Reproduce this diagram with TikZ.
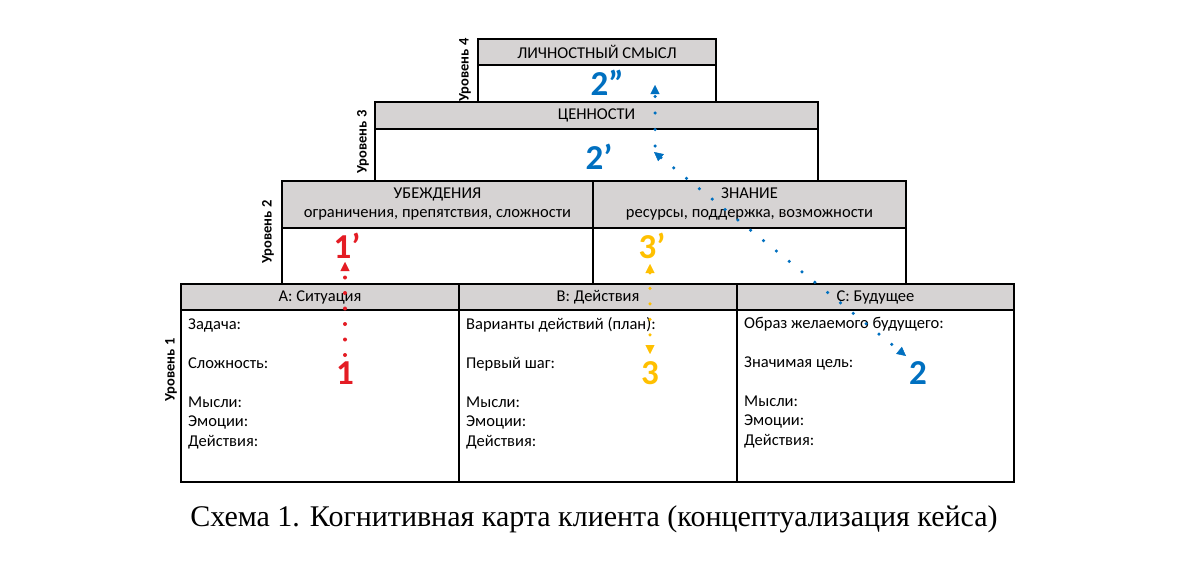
\documentclass[tikz,border=0pt]{standalone}
\usepackage{fontspec}
\setmainfont{Carlito}
\newfontfamily\capfont{Liberation Serif}
\usetikzlibrary{arrows.meta}
\definecolor{hdr}{RGB}{214,211,211}
\definecolor{cred}{RGB}{228,28,36}
\definecolor{cyel}{RGB}{255,192,0}
\definecolor{cblue}{RGB}{0,112,192}
\begin{document}
\begin{tikzpicture}[x=1pt,y=-1pt,
  boxline/.style={draw=black,line width=1.7pt,inner sep=0pt,outer sep=0pt},
  hdrbox/.style={boxline,fill=hdr,font=\fontsize{16.5}{19}\selectfont,align=center},
  bodybox/.style={boxline,fill=white},
  txt/.style={font=\fontsize{16.5}{18}\selectfont,inner sep=0pt,anchor=base west},
  lvl/.style={font=\bfseries\fontsize{14.5}{15}\selectfont,inner sep=0pt,rotate=90},
  num/.style={font=\bfseries\fontsize{35}{35}\selectfont,inner sep=0pt},
  dotline/.style={line width=4pt,line cap=round,dash pattern=on 0pt off 15.5pt},
  tip/.style={-{Triangle[length=9pt,width=9pt,line width=0.4pt]}},
  tips/.style={{Triangle[length=9pt,width=9pt,line width=0.4pt]}-{Triangle[length=9pt,width=9pt,line width=0.4pt]}}]
\useasboundingbox[fill=white] (0,0) rectangle (1200,562);

% Level 4
\node[bodybox,minimum width=238pt,minimum height=37pt] (b4) at (597,83.5) {};
\node[hdrbox,minimum width=238pt,minimum height=26pt] (h4) at (597,52) {ЛИЧНОСТНЫЙ СМЫСЛ};
% Level 3
\node[bodybox,minimum width=443pt,minimum height=52pt] (b3) at (596.5,155) {};
\node[hdrbox,minimum width=443pt,minimum height=27pt] (h3) at (596.5,115.5) {ЦЕННОСТИ};
% Level 2
\node[bodybox,minimum width=311pt,minimum height=56pt] (b2a) at (437.5,256) {};
\node[bodybox,minimum width=313pt,minimum height=56pt] (b2b) at (749.5,256) {};
\node[hdrbox,minimum width=311pt,minimum height=47pt] (h2a) at (437.5,204.5) {УБЕЖДЕНИЯ\\ограничения, препятствия, сложности};
\node[hdrbox,minimum width=313pt,minimum height=47pt] (h2b) at (749.5,204.5) {ЗНАНИЕ\\ресурсы, поддержка, возможности};
% Level 1
\node[bodybox,minimum width=278pt,minimum height=172pt] (b1a) at (320,396) {};
\node[bodybox,minimum width=278pt,minimum height=172pt] (b1b) at (598,396) {};
\node[bodybox,minimum width=277pt,minimum height=172pt] (b1c) at (875.5,396) {};
\node[hdrbox,minimum width=278pt,minimum height=26pt] (h1a) at (320,297) {A: Ситуация};
\node[hdrbox,minimum width=278pt,minimum height=26pt] (h1b) at (598,297) {B: Действия};
\node[hdrbox,minimum width=277pt,minimum height=26pt] (h1c) at (875.5,297) {C: Будущее};

% level labels
\node[lvl] (l4) at (465,70) {Уровень 4};
\node[lvl] (l3) at (363,142) {Уровень 3};
\node[lvl] (l2) at (268,232) {Уровень 2};
\node[lvl] (l1) at (171,370) {Уровень 1};

% body texts
\node[txt] (ta1) at (188,329) {Задача:};
\node[txt] (ta2) at (188,368) {Сложность:};
\node[txt] (ta3) at (188,407) {Мысли:};
\node[txt] (ta4) at (188,426) {Эмоции:};
\node[txt] (ta5) at (188,446) {Действия:};
\node[txt] (tb1) at (466,329) {Варианты действий (план):};
\node[txt] (tb2) at (466,368) {Первый шаг:};
\node[txt] (tb3) at (466,407) {Мысли:};
\node[txt] (tb4) at (466,426) {Эмоции:};
\node[txt] (tb5) at (466,446) {Действия:};
\node[txt] (tc1) at (744,328) {Образ желаемого будущего:};
\node[txt] (tc2) at (744,367) {Значимая цель:};
\node[txt] (tc3) at (744,406) {Мысли:};
\node[txt] (tc4) at (744,425) {Эмоции:};
\node[txt] (tc5) at (744,445) {Действия:};

% numbers
\node[num,text=cred] (n1) at (345,373) {1};
\node[num,text=cred] (n1p) at (347,246) {1’};
\node[num,text=cyel] (n3) at (650,373) {3};
\node[num,text=cyel] (n3p) at (652,246) {3’};
\node[num,text=cblue] (n2) at (918,373) {2};
\node[num,text=cblue] (n2p) at (599,157) {2’};
\node[num,text=cblue] (n2pp) at (607,83) {2”};

% arrow endpoints
\coordinate (r0) at (345,355);
\coordinate (r1) at (345,262);
\coordinate (y0) at (650,264);
\coordinate (y1) at (650,354);
\coordinate (bd0) at (654,152);
\coordinate (bd1) at (906,356);
\coordinate (bv0) at (655,146);
\coordinate (bv1) at (655,85);

\draw[dotline,cred,tip] (r0) -- (r1);
\draw[dotline,cyel,tips,line width=3.5pt] (y0) -- (y1);
\draw[dotline,cblue,tips,line width=3.5pt,dash pattern=on 0pt off 16.5pt] (bd0) -- (bd1);
\draw[dotline,cblue,tip,line width=3.5pt,dash pattern=on 0pt off 16.5pt] (bv0) -- (bv1);

% caption
\node[inner sep=0pt,font=\capfont\fontsize{30}{32}\selectfont] (cap) at (594,519) {Схема 1. Когнитивная карта клиента (концептуализация кейса)};
\end{tikzpicture}
\end{document}
